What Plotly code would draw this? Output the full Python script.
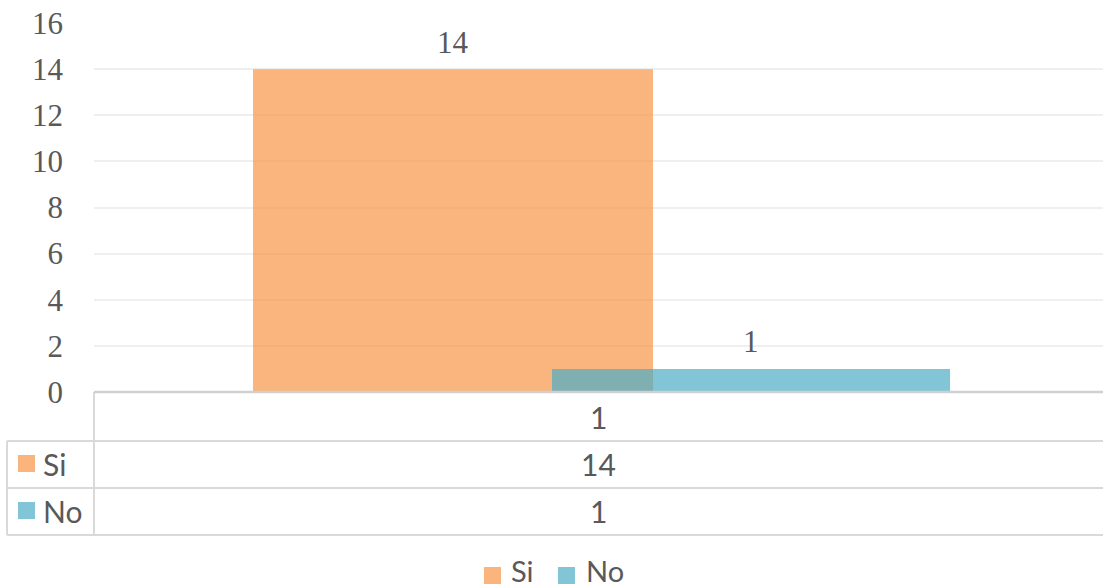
import plotly.graph_objects as go

# Chart data
categories = ["1"]
series_names = ["Si", "No"]
si_values = [14]
no_values = [1]
y_ticks = [0, 2, 4, 6, 8, 10, 12, 14, 16]

# Figure geometry (pixels)
W, H = 1103, 588
L, R, T, B = 94, 1103, 23, 392  # plot area edges


def px_x(px):
    return (px - L) / (R - L)


def px_y(py):
    return (B - py) / (B - T)


si_color = "rgba(247,150,70,0.7)"
no_color = "rgba(75,172,198,0.7)"
text_grey = "#595959"
line_grey = "#d9d9d9"
serif = "Liberation Serif"
sans = "Lato"

# Overlapping bars: offsets/widths in category units
bar_specs = [
    (series_names[0], si_values, si_color, -0.3424, 0.3964),
    (series_names[1], no_values, no_color, -0.0461, 0.3945),
]

fig = go.Figure()
for name, vals, color, off, wid in bar_specs:
    fig.add_bar(
        name=name,
        x=list(range(len(categories))),
        y=vals,
        offset=off,
        width=wid,
        marker=dict(color=color, line=dict(width=0)),
        showlegend=False,
    )

annotations = []
shapes = []


def label(x, y, text, font, xref="paper", yref="paper", xanchor="center"):
    annotations.append(dict(
        x=x, y=y, xref=xref, yref=yref, text=text, showarrow=False,
        xanchor=xanchor, yanchor="middle", font=font,
    ))


sans_font = dict(family=sans, size=30, color=text_grey)

# Value labels above each bar
for name, vals, color, off, wid in bar_specs:
    for i, v in enumerate(vals):
        annotations.append(dict(
            x=i + off + wid / 2, y=v, xref="x", yref="y",
            text=str(v), showarrow=False, xanchor="center",
            yanchor="middle", yshift=27,
            font=dict(family=serif, size=31, color=text_grey),
        ))

# Data table under the axis
row_lines_y = [441, 488, 535]
for py in row_lines_y:
    shapes.append(dict(type="line", xref="paper", yref="paper",
                       x0=px_x(7), x1=px_x(1103), y0=px_y(py), y1=px_y(py),
                       line=dict(color=line_grey, width=2)))
shapes.append(dict(type="line", xref="paper", yref="paper",
                   x0=px_x(94), x1=px_x(94), y0=px_y(392), y1=px_y(535),
                   line=dict(color=line_grey, width=2)))
shapes.append(dict(type="line", xref="paper", yref="paper",
                   x0=px_x(7), x1=px_x(7), y0=px_y(441), y1=px_y(535),
                   line=dict(color=line_grey, width=2)))
# Horizontal axis line at zero
shapes.append(dict(type="line", xref="paper", yref="paper",
                   x0=px_x(94), x1=px_x(1103), y0=px_y(392), y1=px_y(392),
                   line=dict(color="#d0d0d0", width=2.5)))

# Category header row
for i, c in enumerate(categories):
    label(i, px_y(417), c, sans_font, xref="x")

# Series rows: key, name and values
row_centers = [464, 511]
for (name, vals, color, off, wid), cy in zip(bar_specs, row_centers):
    shapes.append(dict(type="rect", xref="paper", yref="paper",
                       x0=px_x(18), x1=px_x(35), y0=px_y(cy - 9), y1=px_y(cy + 8),
                       fillcolor=color, line=dict(width=0)))
    label(px_x(41), px_y(cy), name, sans_font, xanchor="left")
    for i, v in enumerate(vals):
        label(i, px_y(cy), str(v), sans_font, xref="x")

# Legend below the table
legend_font = dict(family=sans, size=29, color=text_grey)
legend_items = [(484, 509), (558, 584)]  # key left edge, text left edge
for (name, vals, color, off, wid), (kx, tx) in zip(bar_specs, legend_items):
    shapes.append(dict(type="rect", xref="paper", yref="paper",
                       x0=px_x(kx), x1=px_x(kx + 17), y0=px_y(567), y1=px_y(584),
                       fillcolor=color, line=dict(width=0)))
    label(px_x(tx), px_y(570), name, legend_font, xanchor="left")

fig.update_layout(
    width=W, height=H,
    margin=dict(l=L, r=W - R, t=T, b=H - B, pad=0),
    paper_bgcolor="white", plot_bgcolor="white",
    barmode="overlay",
    showlegend=False,
    xaxis=dict(range=[-0.5, len(categories) - 0.5], showticklabels=False,
               showgrid=False, zeroline=False, showline=False, ticks=""),
    yaxis=dict(range=[0, 16], tickvals=y_ticks, showgrid=True,
               gridcolor="#efefef", gridwidth=2, zeroline=False, showline=False,
               ticks="", ticklabelstandoff=30,
               tickfont=dict(family=serif, size=31, color=text_grey)),
    annotations=annotations,
    shapes=shapes,
)

fig.write_html("out.html")
